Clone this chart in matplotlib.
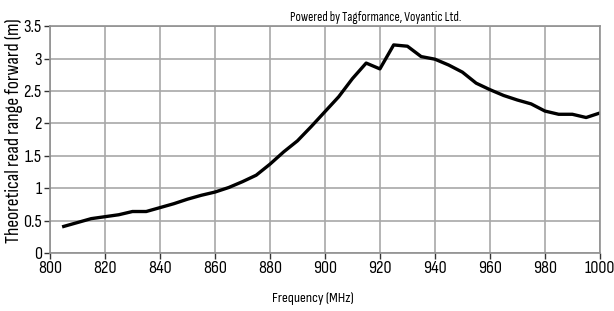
import matplotlib
matplotlib.use("Agg")
import matplotlib.pyplot as plt

# frequency sweep (MHz) and theoretical read range (m)
freq = [805, 810, 815, 820, 825, 830, 835, 840, 845, 850, 855, 860, 865, 870,
        875, 880, 885, 890, 895, 900, 905, 910, 915, 920, 925, 930, 935, 940,
        945, 950, 955, 960, 965, 970, 975, 980, 985, 990, 995, 1000]
read_range = [0.41, 0.47, 0.53, 0.56, 0.59, 0.64, 0.64, 0.70, 0.76, 0.83, 0.89, 0.94, 1.01, 1.10,
              1.20, 1.37, 1.56, 1.73, 1.95, 2.18, 2.41, 2.69, 2.93, 2.84, 3.21, 3.19, 3.03, 2.99,
              2.90, 2.79, 2.62, 2.52, 2.43, 2.36, 2.30, 2.19, 2.14, 2.14, 2.09, 2.16]

xticks = [800, 820, 840, 860, 880, 900, 920, 940, 960, 980, 1000]
yticks = [0, 0.5, 1, 1.5, 2, 2.5, 3, 3.5]
ytick_labels = ['0', '0.5', '1', '1.5', '2', '2.5', '3', '3.5']

# narrow font like the original instrument software, with fallback
plt.rcParams['font.family'] = ['Sofia Sans Condensed', 'DejaVu Sans']

fig = plt.figure(figsize=(6.14, 3.11), dpi=100)
ax = fig.add_axes([0.0814, 0.1865, 0.8956, 0.7295])

ax.plot(freq, read_range, color='black', linewidth=2.4, solid_joinstyle='round')

ax.set_xlim(800, 1000)
ax.set_ylim(0, 3.5)
ax.set_xticks(xticks)
ax.set_yticks(yticks)
ax.set_yticklabels(ytick_labels)
ax.tick_params(labelsize=13, length=4, width=1, color='#333333', pad=2)

ax.grid(True, color='#a8a8a8', linewidth=1.2)
ax.set_axisbelow(True)
for s in ax.spines.values():
    s.set_color('#909090')
    s.set_linewidth(1.2)

ax.set_xlabel('Frequency (MHz)', fontsize=10.5)
ax.xaxis.set_label_coords(0.478, -0.17)
fig.text(0.022, 0.219, 'Theoretical read range forward (m)', rotation=90,
         fontsize=14, ha='center', va='bottom')
fig.text(0.612, 0.922, 'Powered by Tagformance, Voyantic Ltd.', fontsize=9.3,
         ha='center', va='bottom')

fig.savefig('out.png', dpi=100)
